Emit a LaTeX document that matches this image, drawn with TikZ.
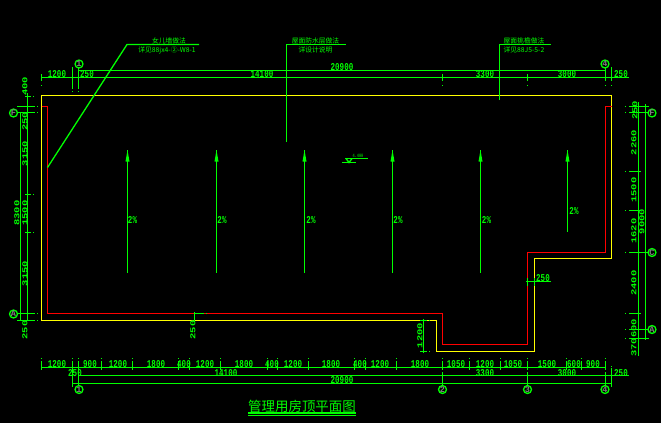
\documentclass[tikz,border=0pt]{standalone}
\usepackage{fontspec}
\setmonofont{Liberation Mono}
\newfontfamily\cjkfont{Noto Sans CJK SC}
\definecolor{cadgreen}{RGB}{0,255,0}
\definecolor{cadyellow}{RGB}{255,255,0}
\definecolor{cadred}{RGB}{255,0,0}
\definecolor{cadgrey}{RGB}{128,128,128}
\tikzset{cadline/.style = {cadgreen, line width = 1.3bp}}
\tikzset{dimlab/.style = {text = cadgreen, font = \fontsize{10.5}{10}\ttfamily\bfseries, inner sep = 0, xscale = 0.72}}
\tikzset{dimlabv/.style = {dimlab, rotate = 90}}
\tikzset{notelab/.style = {text = cadgreen, font = \fontsize{6.8}{7}\cjkfont, inner sep = 0}}
\tikzset{axisbub/.style = {draw = cadgreen, line width = 1.3bp, circle, inner sep = 0, minimum size = 8, text = cadgrey, font = \fontsize{8.5}{8}\ttfamily\bfseries}}

\begin{document}
\begin{tikzpicture}[x = 1bp, y = -1bp]
    \fill [black] (0, 0) rectangle (661, 423);
    \useasboundingbox (0, 0) rectangle (661, 423);

    % outlines
    \draw [cadyellow, line width = 1.3bp] (41.5, 320.5) -- (41.5, 95.5) -- (611.5, 95.5) -- (611.5, 258.5) -- (534.5, 258.5) -- (534.5, 351.5) -- (436.5, 351.5) -- (436.5, 320.5) -- cycle;
    \draw [cadred, line width = 1.3bp] (41.5, 106.5) -- (47.5, 106.5) -- (47.5, 313.5) -- (442.5, 313.5) -- (442.5, 344.5) -- (527.5, 344.5) -- (527.5, 252.5) -- (605.5, 252.5) -- (605.5, 106.5) -- (611.5, 106.5);

    % dimension lines
    \begin{scope}[cadline]
    \draw (78, 70.5) -- (606, 70.5);
    \draw (41, 77.5) -- (629, 77.5);
    \draw (41, 367.5) -- (606, 367.5);
    \draw (78, 375.5) -- (629, 375.5);
    \draw (72, 383.5) -- (612, 383.5);
    \draw (20.5, 112) -- (20.5, 321);
    \draw (27.5, 93) -- (27.5, 321);
    \draw (638.5, 102) -- (638.5, 355.5);
    \draw (645.5, 104) -- (645.5, 340);

    % top row
    \foreach \x in {41.5, 442.5, 527.5} {
      \draw (\x, 74) -- (\x, 81);
      \draw (\x, 85) -- (\x, 86);
    }
    \draw (605.5, 68) -- (605.5, 81); \draw (605.5, 85) -- (605.5, 86);
    \draw (611.5, 67) -- (611.5, 81); \draw (611.5, 85) -- (611.5, 86);
    \draw (72.5, 67) -- (72.5, 89); \draw (72.5, 91) -- (72.5, 92);
    \draw (78.5, 68) -- (78.5, 89); \draw (78.5, 91) -- (78.5, 92);

    % bottom row
    \foreach \x in {41.5, 72.5, 78.5, 101.5, 132.5, 178.5, 189.5, 220.5, 267.5, 277.5, 308.5, 354.5, 365.5, 396.5, 442.5, 469.5, 500.5, 527.5, 566.5, 581.5, 605.5} {
      \draw (\x, 361) -- (\x, 370);
      \draw (\x, 358) -- (\x, 359);
    }
    \draw (72.5, 367) -- (72.5, 387);
    \draw (78.5, 367) -- (78.5, 385);
    \draw (442.5, 372) -- (442.5, 385);
    \draw (527.5, 372) -- (527.5, 385);
    \draw (605.5, 372) -- (605.5, 385);
    \draw (611.5, 368) -- (611.5, 387); \draw (611.5, 366) -- (611.5, 367);

    % left row
    \foreach \y in {106.5, 112.5, 313.5, 320.5} {
      \draw (17, \y) -- (35, \y);
      \draw (37, \y) -- (38, \y);
    }
    \foreach \y in {96.5, 194.5, 232.5} {
      \draw (25, \y) -- (31, \y);
      \draw (33, \y) -- (34, \y);
    }

    % right row
    \foreach \y/\e in {106.5/649, 112.5/649, 171.5/641, 210.5/641, 252.5/648, 313.5/641, 329.5/648, 338.5/649} {
      \draw (629, \y) -- (\e, \y);
      \draw (625, \y) -- (626, \y);
    }

    % inner dimensions
    \draw (194.5, 312) -- (194.5, 322);
    \draw (194, 313.5) -- (204, 313.5); \draw (206, 313.5) -- (207, 313.5);
    \draw (423.5, 319) -- (423.5, 353);
    \draw (420, 320.5) -- (427, 320.5); \draw (429, 320.5) -- (430, 320.5);
    \draw (420, 351.5) -- (427, 351.5); \draw (429, 351.5) -- (430, 351.5);
    \draw (526, 281.5) -- (551, 281.5);
    \draw (527.5, 278) -- (527.5, 286);
    \draw (534.5, 278) -- (534.5, 286);

    % slopes
    \foreach \x/\e in {127.5/272.5, 216.5/272.5, 304.5/272.5, 392.5/272.5, 480.5/272.5, 567.5/232} {
      \draw (\x, 150) -- (\x, \e);
      \fill [cadgreen] (\x - 0.5, 153) -- (\x + 0.5, 153) -- (\x + 2, 161.5) -- (\x - 2, 161.5) -- cycle;
    }

    % leaders
    \draw (47.5, 167.5) -- (127, 44.5) -- (199, 44.5);
    \draw (286.5, 142) -- (286.5, 44.5) -- (346, 44.5);
    \draw (499.5, 100) -- (499.5, 44.5) -- (551, 44.5);

    % level mark
    \draw (345, 158.5) -- (368, 158.5);
    \draw (346, 158.5) -- (349, 162.5) -- (352, 158.5);
    \draw (342, 162.5) -- (356, 162.5);

    % title rule
    \draw [line width = 2.5bp] (248, 413) -- (356, 413);
    \draw (248, 415.5) -- (356, 415.5);
    \end{scope}

    % axis marks
    \node [axisbub] (axisTa) at (79, 64) {1};
    \node [axisbub] (axisTb) at (605, 64) {4};
    \node [axisbub] (axisBa) at (79, 389.5) {1};
    \node [axisbub] (axisBb) at (442.5, 389.5) {2};
    \node [axisbub] (axisBc) at (527.5, 389.5) {3};
    \node [axisbub] (axisBd) at (605, 389.5) {4};
    \node [axisbub] (axisLa) at (13.5, 113) {F};
    \node [axisbub] (axisLb) at (13.5, 314) {A};
    \node [axisbub] (axisRa) at (652, 113) {F};
    \node [axisbub] (axisRb) at (652, 252.5) {C};
    \node [axisbub] (axisRc) at (652, 329.5) {A};

    % top labels
    \foreach \x/\y/\t [count = \i] in {57/74/1200, 87/74/250, 262/74/14100, 342/67/20900, 485/74/3300, 567/74/3000, 621/74/250} {
      \node [dimlab] (topdim\i) at (\x, \y) {\t};
    }
    % bottom labels
    \foreach \x/\t [count = \i] in {57/1200, 90/900, 118/1200, 156/1800, 184/400, 205/1200, 244/1800, 272/400, 293/1200, 331/1800, 360/400, 380/1200, 420/1800, 456/1050, 485/1200, 513/1050, 547/1500, 574/600, 593/900} {
      \node [dimlab] (botdim\i) at (\x, 364) {\t};
    }
    \foreach \x/\y/\t [count = \i] in {75/373/250, 226/373/14100, 342/380/20900, 485/373/3300, 567/373/3000, 621/373/250} {
      \node [dimlab] (sumdim\i) at (\x, \y) {\t};
    }
    % left labels
    \foreach \x/\y/\t [count = \i] in {25/86.5/400, 25/121.5/250, 25/153.5/3150, 17/213/8300, 25/213/1500, 25/273.5/3150, 25/330/250} {
      \node [dimlabv] (leftdim\i) at (\x, \y) {\t};
    }
    % right labels
    \foreach \x/\y/\t [count = \i] in {635/110.5/250, 634/142.5/2260, 634/190/1500, 634/231/1620, 642/221.5/9000, 634/283/2400, 634/328.5/600, 634/347.5/370} {
      \node [dimlabv] (rightdim\i) at (\x, \y) {\t};
    }
    % other labels
    \node [dimlabv] (wallmark) at (193, 330) {250};
    \node [dimlabv] (stepmark) at (420, 335.7) {1200};
    \node [dimlab] (notchmark) at (543, 278.5) {250};
    \node [dimlab, font = \fontsize{5}{5}\ttfamily] (levelmark) at (358, 155.5) {4.400};

    \foreach \x/\y [count = \i] in {132.5/220, 222/220, 311/220, 398/220, 486.5/220, 574/211} {
      \node [dimlab] (slopelab\i) at (\x, \y) {2\%};
    }

    % notes
    \node [notelab] (notea) at (169, 41) {女儿墙做法};
    \node [notelab] (noteb) at (167, 50) {详见88jx4-②-W8-1};
    \node [notelab] (notec) at (315.5, 41) {屋面防水层做法};
    \node [notelab] (noted) at (315.5, 50) {详设计说明};
    \node [notelab] (notee) at (524, 41) {屋面挑檐做法};
    \node [notelab] (notef) at (524, 50) {详见88J5-5-2};

    \node [text = cadgreen, font = \fontsize{13.5}{14}\cjkfont, inner sep = 0] (title) at (302, 406) {管理用房顶平面图};
  \end{tikzpicture}
\end{document}
